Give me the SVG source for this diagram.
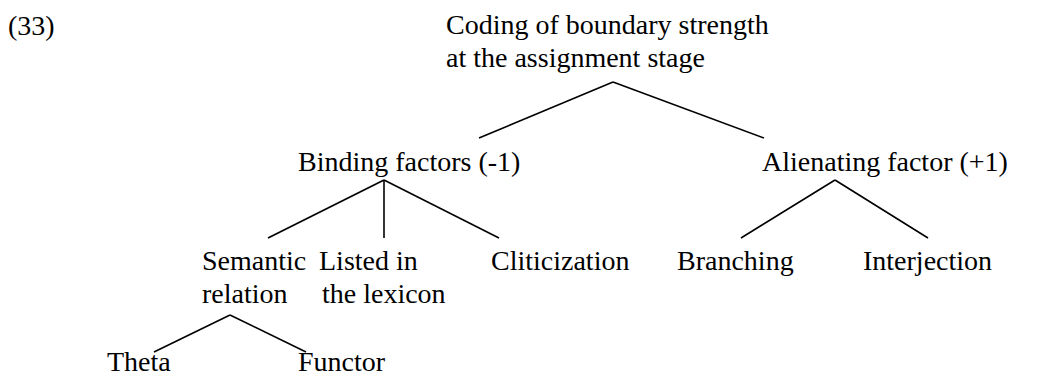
<svg xmlns="http://www.w3.org/2000/svg" width="1038" height="374" viewBox="0 0 1038 374">
<style>
text{font-family:"Liberation Serif","Times New Roman",serif;font-size:28px;fill:#000}
.c line{stroke:#000;stroke-width:1.6;stroke-linecap:butt}
</style>
<rect width="1038" height="374" fill="#fff"/>
<g id="label33"><text x="8" y="35">(33)</text></g>
<g id="root"><text x="446" y="34">Coding of boundary strength</text><text x="446" y="67">at the assignment stage</text></g>
<g id="binding"><text x="298" y="171">Binding factors (-1)</text></g>
<g id="alienating"><text x="762" y="171">Alienating factor (+1)</text></g>
<g id="semantic"><text x="202" y="270">Semantic</text><text x="202" y="303">relation</text></g>
<g id="listed"><text x="319" y="270">Listed in</text><text x="322" y="303">the lexicon</text></g>
<g id="cliticization"><text x="491" y="270">Cliticization</text></g>
<g id="branching"><text x="677" y="270">Branching</text></g>
<g id="interjection"><text x="863" y="270">Interjection</text></g>
<g id="theta"><text x="107" y="371">Theta</text></g>
<g id="functor"><text x="298" y="371">Functor</text></g>
<g id="connectors" class="c">
<line x1="613" y1="82" x2="479" y2="138"/>
<line x1="613" y1="82" x2="764" y2="138"/>
<line x1="384" y1="180" x2="268" y2="238"/>
<line x1="384" y1="180" x2="384" y2="238"/>
<line x1="384" y1="180" x2="499" y2="238"/>
<line x1="835" y1="180" x2="741" y2="238"/>
<line x1="835" y1="180" x2="928" y2="238"/>
<line x1="230" y1="315" x2="154" y2="352"/>
<line x1="230" y1="315" x2="306" y2="352"/>
</g>
</svg>
